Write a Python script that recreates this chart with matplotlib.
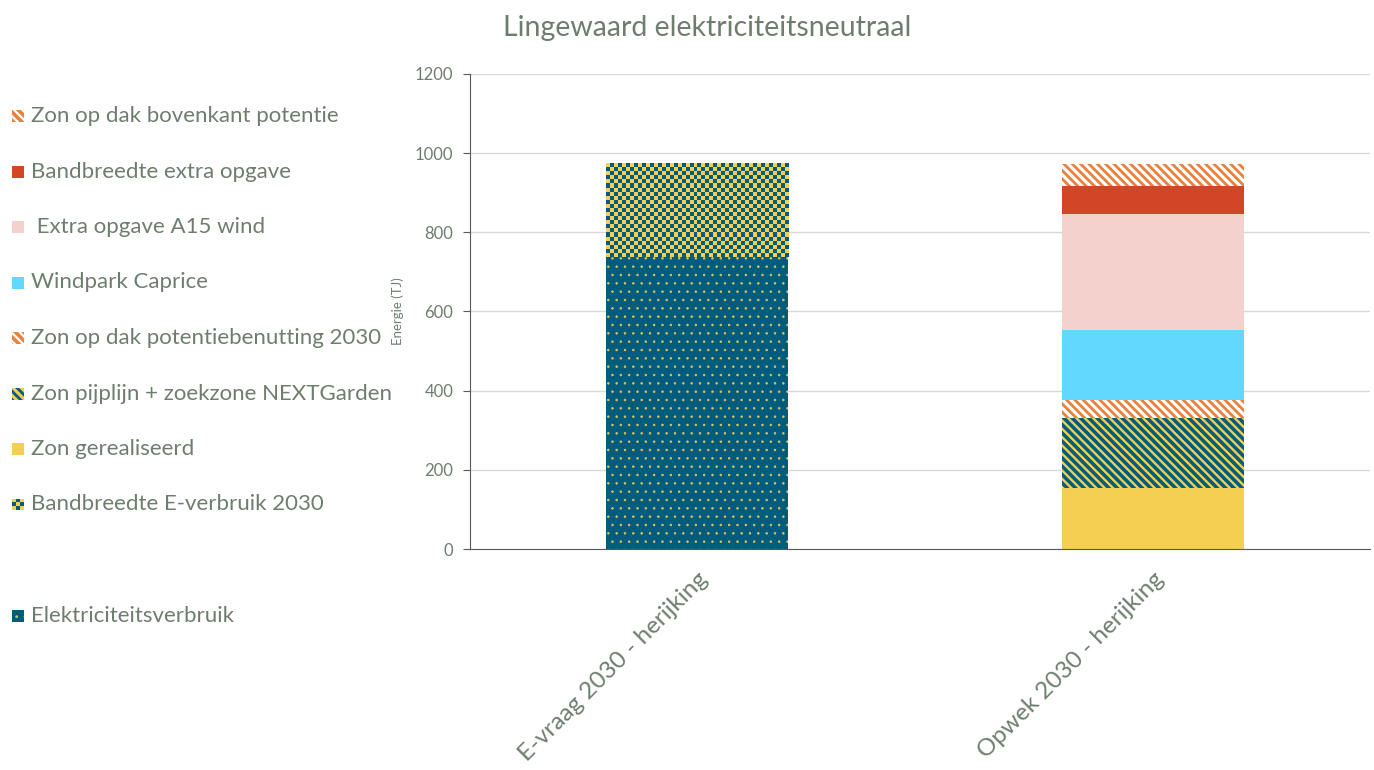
import numpy as np
import matplotlib
matplotlib.use("Agg")
import matplotlib.pyplot as plt
from matplotlib.colors import ListedColormap
from matplotlib.patches import Rectangle

plt.rcParams['font.family'] = ['Lato', 'DejaVu Sans']
plt.rcParams['hatch.linewidth'] = 1.6

TXT = '#6E7E6E'
TEAL = '#005C7C'
YELLOW = '#F5CF52'
ORANGE = '#E8813C'
RED = '#D24526'
PINK = '#F4D1CC'
CYAN = '#62D7FF'

categories = ['E-vraag 2030 - herijking', 'Opwek 2030 - herijking']

# series in stacking order (bottom -> top), values in TJ per category
series_names = [
    'Elektriciteitsverbruik',
    'Bandbreedte E-verbruik 2030',
    'Zon gerealiseerd',
    'Zon pijplijn + zoekzone NEXTGarden',
    'Zon op dak potentiebenutting 2030',
    'Windpark Caprice',
    ' Extra opgave A15 wind',
    'Bandbreedte extra opgave',
    'Zon op dak bovenkant potentie',
]
elektriciteitsverbruik = [738, 0]
bandbreedte_e = [235, 0]
zon_gerealiseerd = [0, 154]
zon_pijplijn = [0, 177]
zon_dak_potentie = [0, 45]
windpark_caprice = [0, 177]
extra_a15 = [0, 293]
bandbreedte_extra = [0, 71]
zon_dak_bovenkant = [0, 56]

series_values = [elektriciteitsverbruik, bandbreedte_e, zon_gerealiseerd, zon_pijplijn,
                 zon_dak_potentie, windpark_caprice, extra_a15, bandbreedte_extra,
                 zon_dak_bovenkant]

# style: (face, hatch colour, hatch, hatch linewidth)
STRIPE = '\\' * 4
styles = {
    'Elektriciteitsverbruik': (TEAL, '#D8C060', '..', 0.6),
    'Bandbreedte E-verbruik 2030': (YELLOW, TEAL, 'checker', None),
    'Zon gerealiseerd': (YELLOW, YELLOW, None, None),
    'Zon pijplijn + zoekzone NEXTGarden': (TEAL, YELLOW, STRIPE, 1.7),
    'Zon op dak potentiebenutting 2030': ('white', ORANGE, STRIPE, 2.0),
    'Windpark Caprice': (CYAN, CYAN, None, None),
    ' Extra opgave A15 wind': (PINK, PINK, None, None),
    'Bandbreedte extra opgave': (RED, RED, None, None),
    'Zon op dak bovenkant potentie': ('white', ORANGE, STRIPE, 2.0),
}

checker_cmap = ListedColormap([YELLOW, TEAL])


def set_hlw(patch, lw):
    if lw is not None and hasattr(patch, 'set_hatch_linewidth'):
        patch.set_hatch_linewidth(lw)


fig = plt.figure(figsize=(13.74, 7.70), dpi=100)
ax = fig.add_axes([0.342, 0.287, 0.655, 0.617])

x = np.arange(len(categories))
width = 0.40
bottom = np.zeros(len(categories))
for name, vals in zip(series_names, series_values):
    face, hcol, hatch, hlw = styles[name]
    vals = np.array(vals, dtype=float)
    if hatch == 'checker':
        ax.bar(x, vals, width, bottom=bottom, color=face, linewidth=0, zorder=2)
        for xi, v, b in zip(x, vals, bottom):
            if v <= 0:
                continue
            nx, ny = 46, 23
            board = np.indices((ny, nx)).sum(axis=0) % 2
            ax.imshow(board, cmap=checker_cmap, extent=(xi - width / 2, xi + width / 2, b, b + v),
                      aspect='auto', interpolation='nearest', zorder=3)
    else:
        bars = ax.bar(x, vals, width, bottom=bottom, facecolor=face, edgecolor=hcol,
                      hatch=hatch, linewidth=0, zorder=2)
        for p in bars.patches:
            set_hlw(p, hlw)
    bottom += vals

ax.set_xlim(-0.498, 1.476)
ax.set_ylim(0, 1200)
ax.set_yticks(np.arange(0, 1201, 200))
ax.grid(axis='y', color='#D9D9D9', linewidth=1, zorder=0)
ax.set_axisbelow(True)
for s in ['top', 'right']:
    ax.spines[s].set_visible(False)
ax.spines['left'].set_color('#595959')
ax.spines['bottom'].set_color('#595959')
ax.tick_params(axis='y', colors='#595959', labelcolor=TXT, labelsize=12, length=5,
               direction='out', pad=7)
ax.tick_params(axis='x', length=0, pad=14)
ax.set_xticks(x)
ax.set_xticklabels(categories, rotation=45, ha='right', rotation_mode='anchor',
                   fontsize=17.5, color=TXT)
ax.set_ylabel('Energie (TJ)', fontsize=9.5, color=TXT, labelpad=8)

fig.text(0.515, 0.963, 'Lingewaard elektriciteitsneutraal', ha='center', va='center',
         fontsize=20.5, color=TXT)

# legend on the left, top to bottom (reverse stacking order, blank gap before last)
legend_order = list(reversed(series_names[2:])) + [series_names[1], None, series_names[0]]
W, H = 1374.0, 770.0
for i, name in enumerate(legend_order):
    if name is None:
        continue
    yc = 116 + i * 55.5
    face, hcol, hatch, hlw = styles[name]
    hx, hs = 12, 12
    if hatch == 'checker':
        iax = fig.add_axes([hx / W, 1 - (yc + hs / 2) / H, hs / W, hs / H])
        iax.imshow(np.indices((3, 3)).sum(axis=0) % 2, cmap=checker_cmap,
                   interpolation='nearest', aspect='auto')
        iax.axis('off')
    else:
        r = Rectangle((hx / W, 1 - (yc + hs / 2) / H), hs / W, hs / H, transform=fig.transFigure,
                      facecolor=face, edgecolor=hcol, hatch=hatch, linewidth=0)
        set_hlw(r, None if hlw is None else hlw * 1.3)
        fig.add_artist(r)
    fig.text(31 / W, 1 - yc / H, name, ha='left', va='center', fontsize=16, color=TXT)

fig.savefig('out.png', dpi=100)
